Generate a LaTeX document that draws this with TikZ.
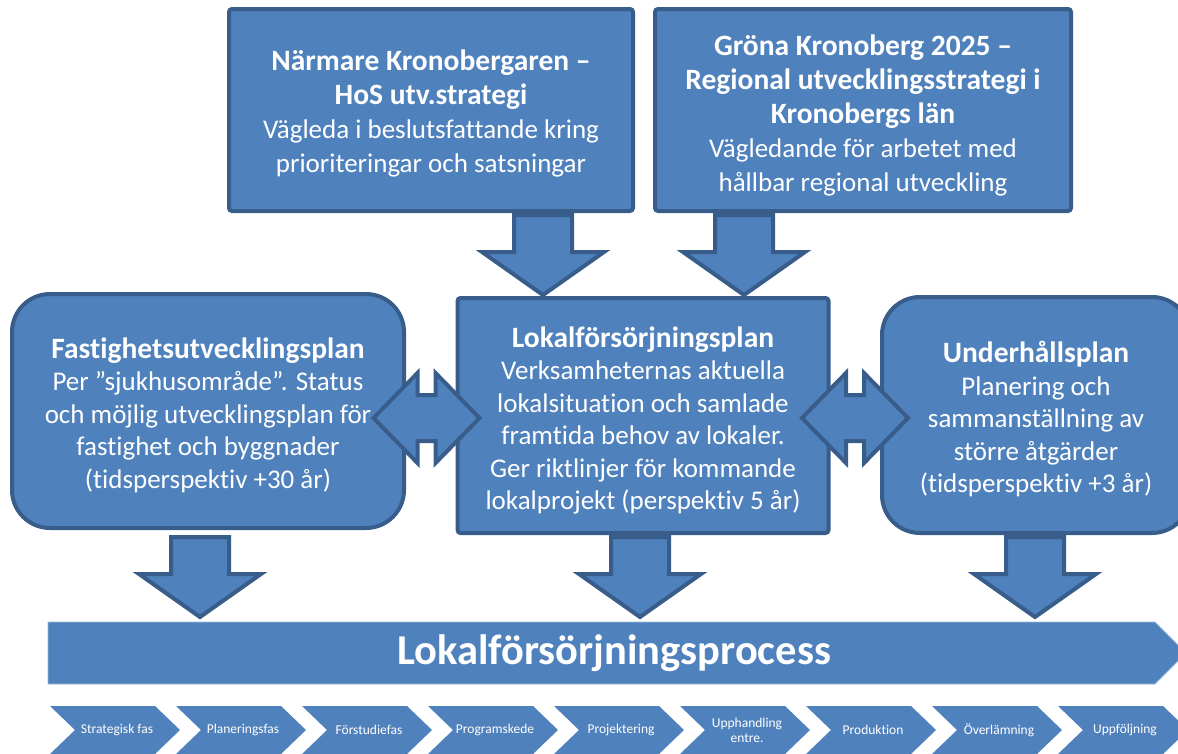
\documentclass[tikz,border=0pt]{standalone}
\usepackage{fontspec}
\setmainfont{Carlito}[Ligatures=NoCommon]
\definecolor{boxfill}{HTML}{4F81BD}
\definecolor{boxline}{HTML}{385D8A}
\newcommand\hd[1]{{\fontsize{29.5}{32.5}\selectfont\bfseries #1}}
\tikzset{
  blk/.style={fill=boxfill,draw=boxline,line width=4pt,inner sep=0pt},
  sqbox/.style={blk,rounded corners=3pt},
  rdbox/.style={blk,rounded corners=38pt},
  boxtext/.style={text=white,align=center,font=\fontsize{27}{32.5}\selectfont,inner sep=0pt},
  toptext/.style={boxtext,font=\fontsize{27}{34}\selectfont},
  blockarrow/.style={fill=boxfill,draw=boxline,line width=4pt,line join=miter},
  downarr/.pic={\path[blockarrow] (-29,0) -- (29,0) -- (29,37) -- (61,37) -- (0,80) -- (-61,37) -- (-29,37) -- cycle;},
  dblarr/.pic={\path[blockarrow] (-53,0) -- (-9,-45) -- (-9,-23) -- (9,-23) -- (9,-45) -- (53,0) -- (9,45) -- (9,23) -- (-9,23) -- (-9,45) -- cycle;},
  phase/.style={text=white,align=center,font=\fontsize{13.5}{15}\selectfont,inner sep=0pt}
}
\begin{document}
\begin{tikzpicture}[x=1pt,y=-1pt]
\useasboundingbox (0,0) rectangle (1178,753);
\clip (0,0) rectangle (1178,753);

% boxes
\node[sqbox,minimum width=404pt,minimum height=202pt] (hos) at (431,110) {};
\node[toptext] (hos-t) at ([yshift=-3pt]hos.center)
  {\hd{Närmare Kronobergaren –}\\\hd{HoS utv.strategi}\\Vägleda i beslutsfattande kring\\prioriteringar och satsningar};
\node[sqbox,minimum width=416pt,minimum height=202pt] (grona) at (863,110) {};
\node[toptext] (grona-t) at ([yshift=-5pt]grona.center)
  {\hd{Gröna Kronoberg 2025 –}\\\hd{Regional utvecklingsstrategi i}\\\hd{Kronobergs län}\\Vägledande för arbetet med\\hållbar regional utveckling};
\node[sqbox,minimum width=371pt,minimum height=235pt] (lfp) at (643,415.5) {};
\node[boxtext] (lfp-t) at ([yshift=-5pt]lfp.center)
  {\hd{Lokalförsörjningsplan}\\Verksamheternas aktuella\\lokalsituation och samlade\\framtida behov av lokaler.\\Ger riktlinjer för kommande\\lokalprojekt (perspektiv 5 år)};
\node[rdbox,minimum width=392pt,minimum height=234pt] (fup) at (208,411) {};
\node[boxtext] (fup-t) at ([yshift=-4pt]fup.center)
  {\hd{Fastighetsutvecklingsplan}\\Per ”sjukhusområde”. Status\\och möjlig utvecklingsplan för\\fastighet och byggnader\\(tidsperspektiv +30 år)};
\node[rdbox,minimum width=308pt,minimum height=236pt] (uhp) at (1036,415) {};
\node[boxtext] (uhp-t) at ([yshift=-4pt]uhp.center)
  {\hd{Underhållsplan}\\Planering och\\sammanställning av\\större åtgärder\\(tidsperspektiv +3 år)};

% block arrows
\pic at (543,215) {downarr};
\pic at (744,215) {downarr};
\pic at (426.5,418) {dblarr};
\pic at (855,418) {dblarr};
\pic at (200,537) {downarr};
\pic at (640,537) {downarr};
\pic at (1035,537) {downarr};

% process bar
\path[fill=boxfill,draw=boxfill!55!white,line width=0.8pt] (48,622) -- (1155,622) -- (1186,653) -- (1155,684) -- (48,684) -- cycle;
\node[text=white,font=\fontsize{42.5}{45}\selectfont\bfseries,inner sep=0pt] (process) at (614,653) {Lokalförsörjningsprocess};

% phases
\foreach \t [count=\i from 0] in {Strategisk fas,Planeringsfas,Förstudiefas,Programskede,Projektering,{Upphandling\\entre.},Produktion,Överlämning,Uppföljning}{
  \pgfmathsetmacro{\L}{50+126*\i}
  \path[fill=boxfill] (\L,706) -- (\L+105,706) -- (\L+130,730) -- (\L+105,754) -- (\L,754) -- (\L+25,730) -- cycle;
  \node[phase] (ph\i) at (\L+67,730) {\t};
}
\end{tikzpicture}
\end{document}
